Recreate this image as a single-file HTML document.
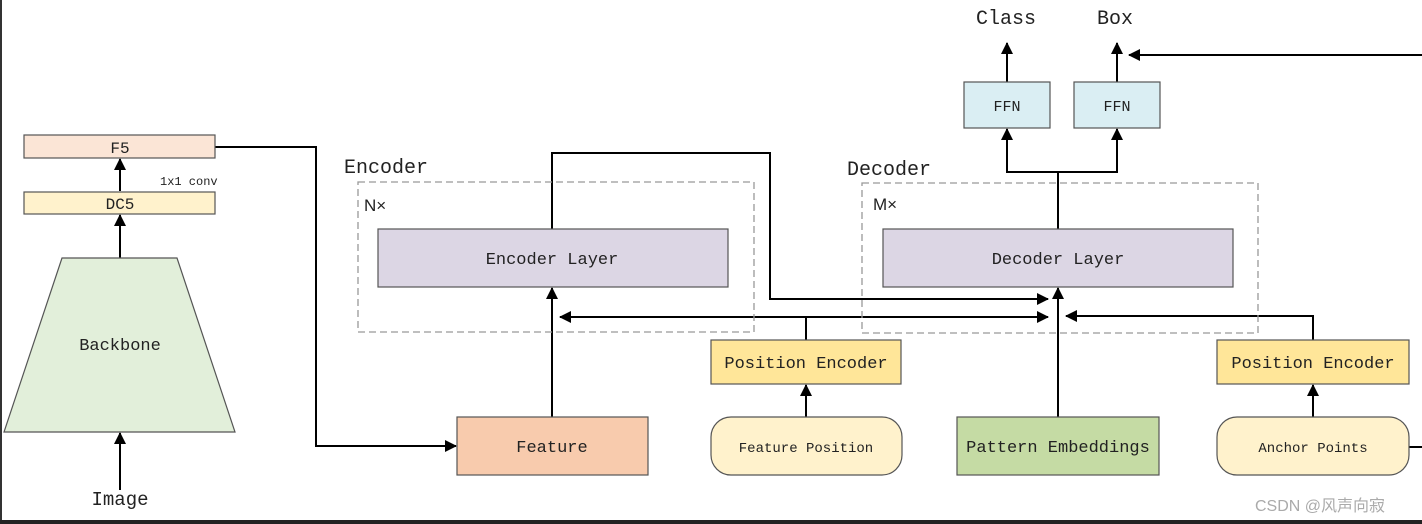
<!DOCTYPE html>
<html><head><meta charset="utf-8"><style>
body{margin:0;background:#fff;}
svg{display:block}
text{font-family:"Liberation Mono","Noto Serif CJK SC",monospace;fill:#222;}
</style></head><body>
<svg width="1422" height="524" viewBox="0 0 1422 524" xmlns="http://www.w3.org/2000/svg">
<defs><marker id="a" markerWidth="10" markerHeight="10" refX="9" refY="5" orient="auto" markerUnits="userSpaceOnUse"><path d="M0,0 L10,5 L0,10 Z" fill="#000"/></marker>
<marker id="as" markerWidth="12" markerHeight="12" refX="11" refY="6" orient="auto-start-reverse" markerUnits="userSpaceOnUse"><path d="M0,0 L12,6 L0,12 Z" fill="#000"/></marker></defs>
<rect x="0" y="0" width="2" height="524" fill="#333"/>
<rect x="0" y="520" width="1422" height="4" fill="#222"/>
<g stroke="#000" stroke-width="2" fill="none">
<!-- left -->
<line x1="120" y1="490" x2="120" y2="433" marker-end="url(#as)"/>
<line x1="120" y1="258" x2="120" y2="215" marker-end="url(#as)"/>
<line x1="120" y1="191" x2="120" y2="159" marker-end="url(#as)"/>
<polyline points="215,147 316,147 316,446 456,446" marker-end="url(#as)"/>
<line x1="552" y1="417" x2="552" y2="288" marker-end="url(#as)"/>
<polyline points="552,229 552,153 770,153 770,299 1048,299" marker-end="url(#as)"/>
<line x1="560" y1="317" x2="1048" y2="317" marker-start="url(#as)" marker-end="url(#as)"/>
<line x1="806" y1="340" x2="806" y2="317"/>
<line x1="806" y1="417" x2="806" y2="385" marker-end="url(#as)"/>
<polyline points="1313,340 1313,316 1066,316" marker-end="url(#as)"/>
<line x1="1313" y1="417" x2="1313" y2="385" marker-end="url(#as)"/>
<line x1="1058" y1="417" x2="1058" y2="288" marker-end="url(#as)"/>
<polyline points="1058,229 1058,172 1007,172 1007,129" marker-end="url(#as)"/>
<polyline points="1058,172 1117,172 1117,129" marker-end="url(#as)"/>
<line x1="1007" y1="82" x2="1007" y2="43" marker-end="url(#as)"/>
<line x1="1117" y1="82" x2="1117" y2="43" marker-end="url(#as)"/>
<line x1="1422" y1="55" x2="1129" y2="55" marker-end="url(#as)"/>
<line x1="1409" y1="447" x2="1422" y2="447"/>
</g>
<g stroke="#999" stroke-width="1.3" stroke-dasharray="7,4" fill="none">
<rect x="358" y="182" width="396" height="150"/>
<rect x="862" y="183" width="396" height="150"/>
</g>
<g stroke="#555" stroke-width="1.2">
<rect x="24" y="135" width="191" height="23" fill="#fbe5d6"/>
<rect x="24" y="192" width="191" height="22" fill="#fff2cc"/>
<polygon points="62,258 177,258 235,432 4,432" fill="#e2efda"/>
<rect x="378" y="229" width="350" height="58" fill="#dcd6e4"/>
<rect x="883" y="229" width="350" height="58" fill="#dcd6e4"/>
<rect x="964" y="82" width="86" height="46" fill="#daeef3"/>
<rect x="1074" y="82" width="86" height="46" fill="#daeef3"/>
<rect x="457" y="417" width="191" height="58" fill="#f8cbad"/>
<rect x="711" y="417" width="191" height="58" rx="20" fill="#fff2cc"/>
<rect x="957" y="417" width="202" height="58" fill="#c5dba4"/>
<rect x="1217" y="417" width="192" height="58" rx="20" fill="#fff2cc"/>
<rect x="711" y="340" width="190" height="44" fill="#ffe699"/>
<rect x="1217" y="340" width="192" height="44" fill="#ffe699"/>
</g>
<g text-anchor="middle">
<text x="120" y="153" font-size="16">F5</text>
<text x="120" y="209" font-size="16">DC5</text>
<text x="160" y="185" font-size="12" text-anchor="start" x="127">1x1 conv</text>
<text x="120" y="350" font-size="17">Backbone</text>
<text x="120" y="505" font-size="19">Image</text>
<text x="552" y="264" font-size="17">Encoder Layer</text>
<text x="1058" y="264" font-size="17">Decoder Layer</text>
<text x="1007" y="111" font-size="15">FFN</text>
<text x="1117" y="111" font-size="15">FFN</text>
<text x="1006" y="24" font-size="20">Class</text>
<text x="1115" y="24" font-size="20">Box</text>
<text x="552" y="452" font-size="17">Feature</text>
<text x="806" y="452" font-size="14">Feature Position</text>
<text x="1058" y="452" font-size="17">Pattern Embeddings</text>
<text x="1313" y="452" font-size="14">Anchor Points</text>
<text x="806" y="368" font-size="17">Position Encoder</text>
<text x="1313" y="368" font-size="17">Position Encoder</text>
</g>
<text x="344" y="173" font-size="20">Encoder</text>
<text x="847" y="175" font-size="20">Decoder</text>
<text x="364" y="211" font-size="17" style="font-family:'Liberation Sans',sans-serif">N×</text>
<text x="873" y="210" font-size="17" style="font-family:'Liberation Sans',sans-serif">M×</text>
<text x="1255" y="511" font-size="16" style="font-family:'Liberation Sans','Noto Sans CJK SC',sans-serif;fill:#aaa">CSDN @风声向寂</text>
</svg>
</body></html>
